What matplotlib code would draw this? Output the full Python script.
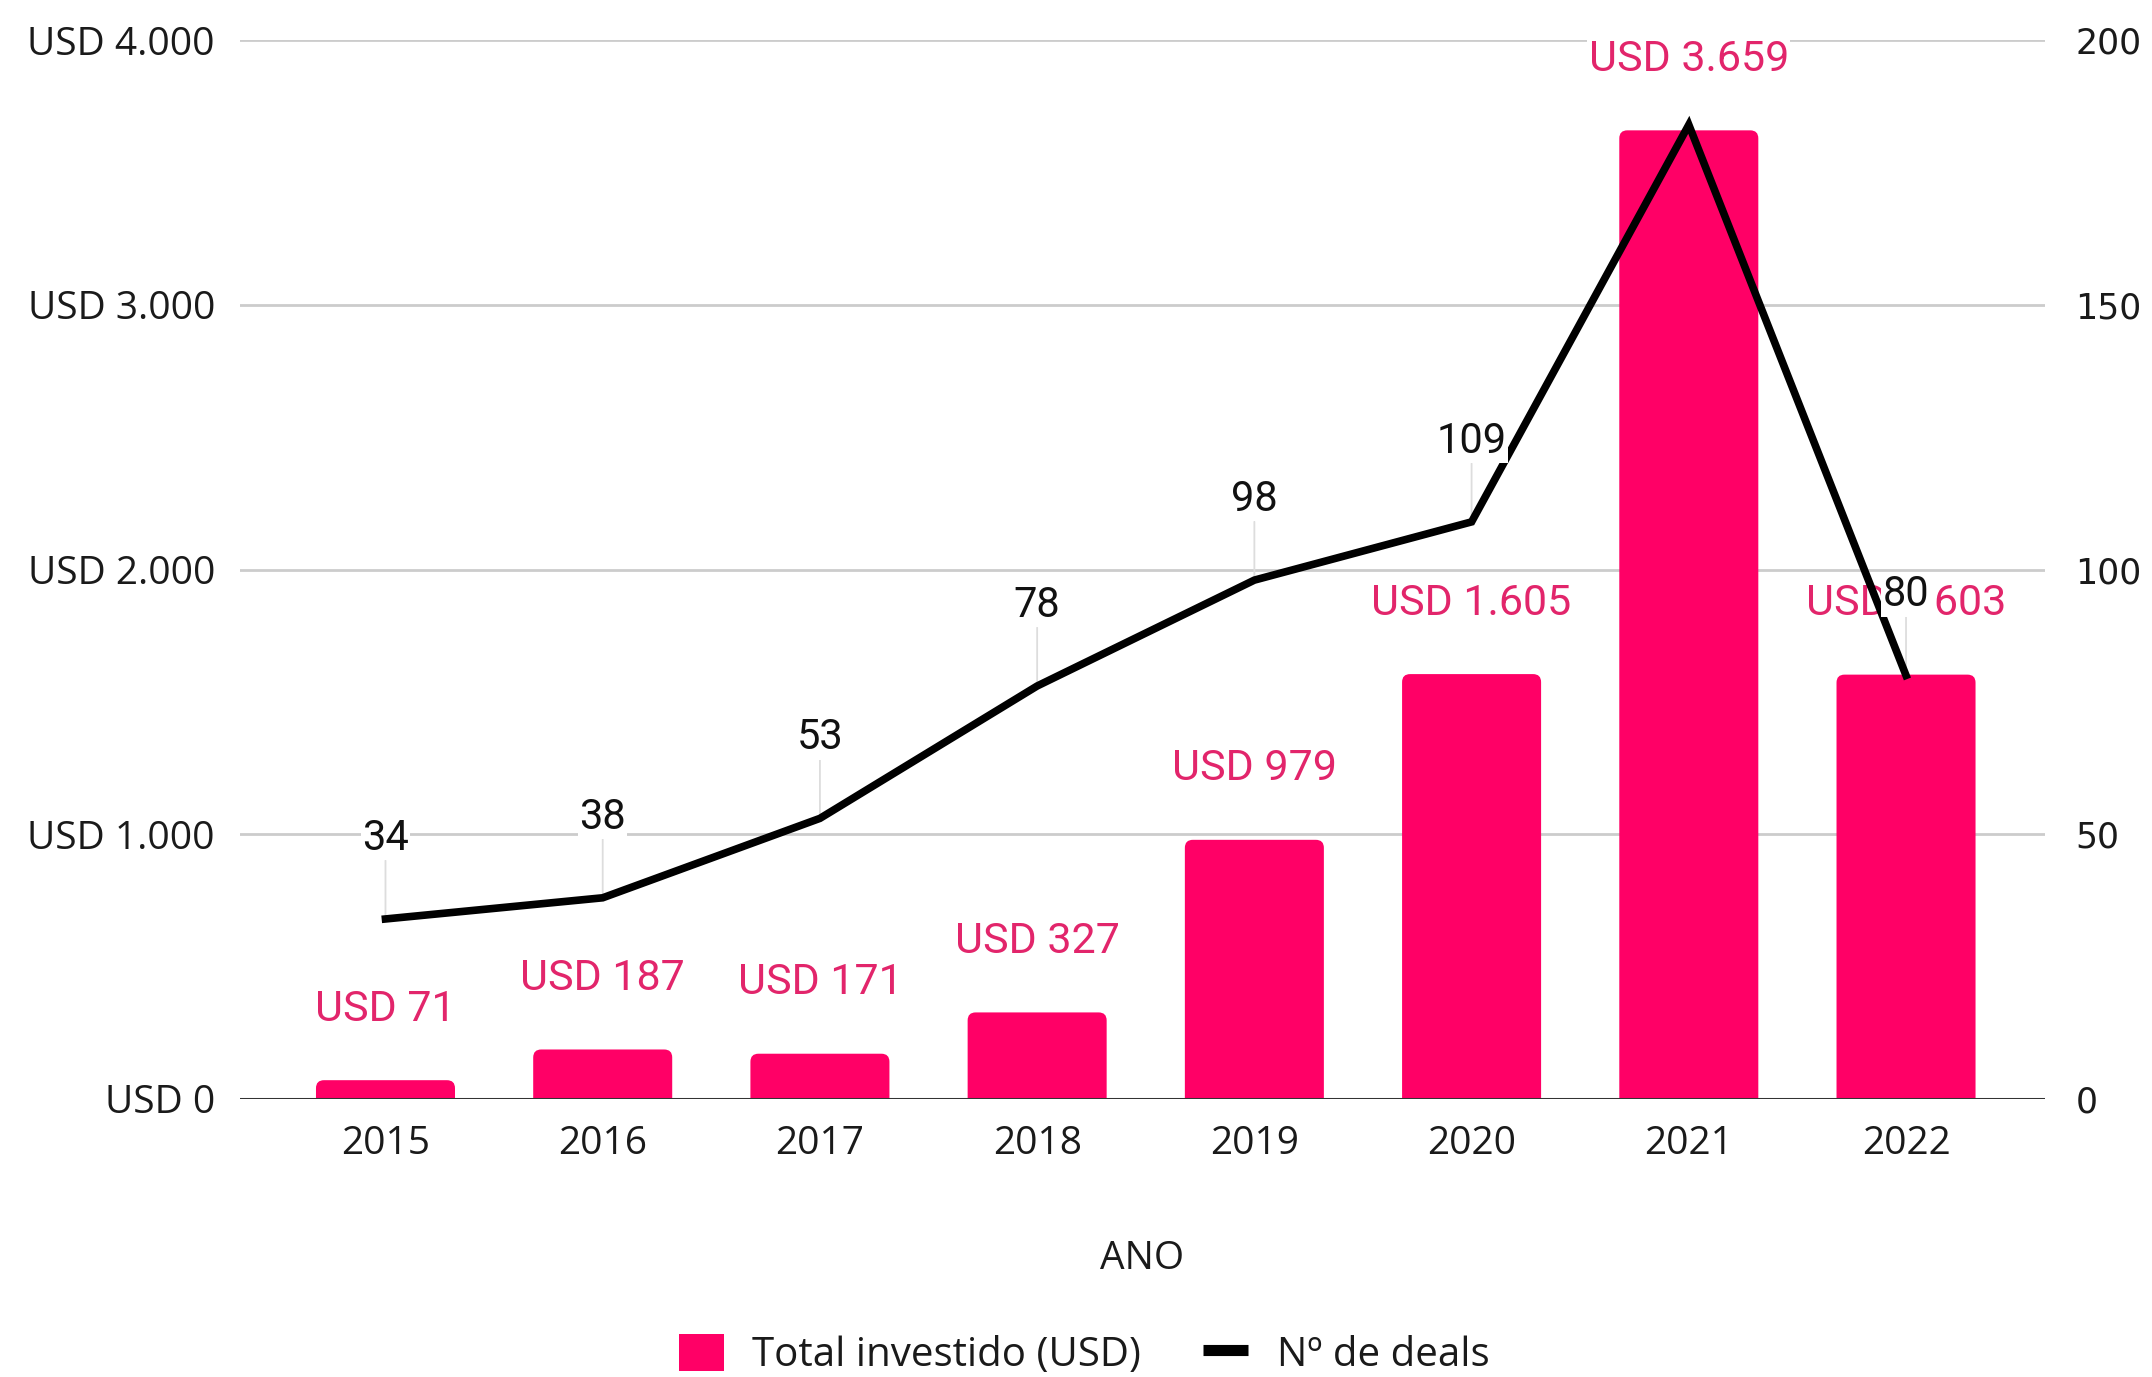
"""
Investimento total (USD) e número de deals por ano: barras + linha em eixo duplo.
"""
import numpy as np
import matplotlib
matplotlib.use("Agg")
import matplotlib.pyplot as plt
from matplotlib.patches import FancyBboxPatch, Patch
from matplotlib.lines import Line2D

# --- Dados ---
anos = ["2015", "2016", "2017", "2018", "2019", "2020", "2021", "2022"]
total_investido = [71, 187, 171, 327, 979, 1605, 3659, 1603]
num_deals = [34, 38, 53, 78, 98, 109, 184, 80]
rotulos_usd = ["USD 71", "USD 187", "USD 171", "USD 327",
               "USD 979", "USD 1.605", "USD 3.659", "USD 1.603"]

ticks_usd = [0, 1000, 2000, 3000, 4000]
ticks_usd_labels = ["USD 0", "USD 1.000", "USD 2.000", "USD 3.000", "USD 4.000"]
ticks_deals = [0, 50, 100, 150, 200]

# --- Estilo ---
ROSA = "#FF0066"
ROSA_TXT = "#E2256B"
FONTE = ["Open Sans", "DejaVu Sans"]
FONTE_ROTULO = ["Roboto", "DejaVu Sans"]

plt.rcParams["font.family"] = FONTE

fig = plt.figure(figsize=(21.52, 13.77), dpi=100)
ax = fig.add_axes([0.1115, 0.2019, 0.8388, 0.769])

x = np.arange(len(anos))
bars = ax.bar(x, total_investido, width=0.64, color=ROSA, zorder=2)

# barras com cantos superiores arredondados
ax.set_ylim(0, 4000)
ax.set_xlim(-0.67, 7.64)
fig.canvas.draw()
px_x = ax.transData.transform((1, 0))[0] - ax.transData.transform((0, 0))[0]
px_y = ax.transData.transform((0, 1000))[1] - ax.transData.transform((0, 0))[1]
raio = 8 / px_x
aspecto = (8 / px_y * 1000) / raio
for b in bars:
    b.set_visible(False)
    extra = 80
    p = FancyBboxPatch((b.get_x(), -extra), b.get_width(), b.get_height() + extra,
                       boxstyle=f"round,pad=0,rounding_size={raio}",
                       mutation_aspect=aspecto, fc=ROSA, ec="none", zorder=2)
    ax.add_patch(p)

for i, (v, lbl) in enumerate(zip(total_investido, rotulos_usd)):
    ax.annotate(lbl, xy=(i, v), xytext=(0, 51), textcoords="offset points",
                ha="center", va="center", color=ROSA_TXT, fontsize=31,
                family=FONTE_ROTULO, zorder=4,
                bbox=dict(fc="white", ec="none", pad=1))

ax.set_yticks(ticks_usd)
ax.set_yticklabels(ticks_usd_labels)
ax.set_xticks(x)
ax.set_xticklabels(anos)
ax.tick_params(axis="y", length=0, pad=18, labelsize=28, labelcolor="#1a1a1a")
ax.tick_params(axis="x", length=0, pad=19, labelsize=28, labelcolor="#1a1a1a")
ax.yaxis.grid(True, color="#cccccc", lw=2)
ax.set_axisbelow(True)
ax.axhline(0, color="#333333", lw=2.2, zorder=3)
for s in ax.spines.values():
    s.set_visible(False)

ax.set_xlabel("ANO", fontsize=28, color="#1a1a1a")
ax.xaxis.label.set_va("center")
ax.xaxis.set_label_coords(0.5, -160 / 1059)

# --- Linha: número de deals ---
ax2 = ax.twinx()
ax2.set_ylim(0, 200)
ax2.set_yticks(ticks_deals)
ax2.tick_params(axis="y", length=0, pad=22, labelsize=25, labelcolor="#1a1a1a",
                labelfontfamily="DejaVu Sans")
for s in ax2.spines.values():
    s.set_visible(False)

ax2.plot(x, num_deals, color="black", lw=5.5, solid_joinstyle="miter", zorder=3)

for i, v in enumerate(num_deals):
    if i == 6:  # rótulo de 2021 não aparece no original
        continue
    ax2.annotate("", xy=(i, v), xytext=(0, 42), textcoords="offset points",
                 arrowprops=dict(arrowstyle="-", color="#dddddd", lw=1.3,
                                 shrinkA=0, shrinkB=0), zorder=1)
    ax2.annotate(str(v), xy=(i, v), xytext=(0, 58), textcoords="offset points",
                 ha="center", va="center", fontsize=30, color="#111111",
                 family=FONTE_ROTULO, zorder=5,
                 bbox=dict(fc="white", ec="none", pad=1))

# --- Legenda ---
handles = [Patch(facecolor=ROSA, edgecolor="none"),
           Line2D([], [], color="black", lw=8, solid_capstyle="butt")]
fig.legend(handles, ["Total investido (USD)", "Nº de deals"],
           loc="center", bbox_to_anchor=(1084 / 2152, 1 - 1355 / 1377),
           ncol=2, frameon=False, fontsize=29, handlelength=1.12,
           handleheight=1.05, handletextpad=0.7, columnspacing=1.55,
           labelcolor="#1a1a1a")

fig.savefig("out.png", dpi=100)
